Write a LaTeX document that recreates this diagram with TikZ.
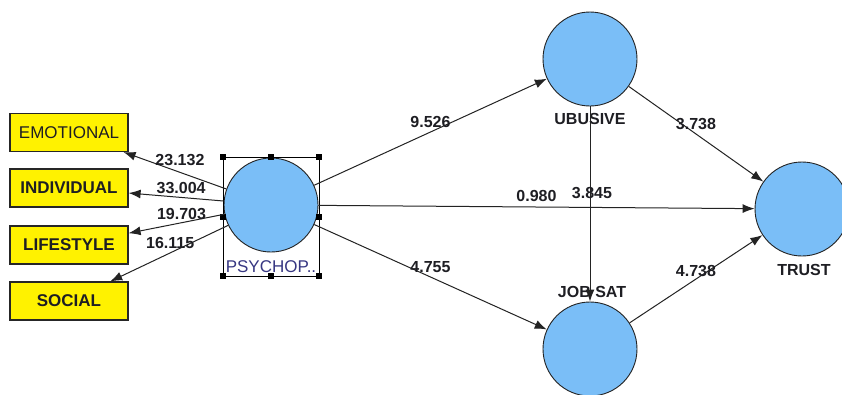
\documentclass[tikz,border=0pt]{standalone}
\usepackage{fontspec}
\setmainfont{Liberation Sans}
\usetikzlibrary{arrows.meta}
\definecolor{latentfill}{RGB}{122,190,247}
\definecolor{edgegray}{RGB}{35,35,35}
\definecolor{txt}{RGB}{30,30,35}
\definecolor{selblue}{RGB}{55,55,130}
\tikzset{
  latent/.style={circle, draw=edgegray, line width=0.9pt, fill=latentfill, minimum size=94pt, inner sep=0pt},
  indicator/.style={rectangle, draw=black!85, line width=1.2pt, fill=yellow, minimum width=118pt, minimum height=38pt, inner sep=0pt, text=txt},
  path/.style={draw=edgegray, line width=1pt, -{Latex[length=12pt,width=9pt]}},
  coef/.style={font=\fontsize{16}{16}\bfseries\selectfont, text=txt, inner sep=1pt},
  lvname/.style={font=\fontsize{16}{16}\bfseries\selectfont, text=txt, inner sep=0pt},
  handle/.style={rectangle, fill=black, minimum size=6pt, inner sep=0pt}
}
\begin{document}
\begin{tikzpicture}[x=1pt, y=-1pt]
\clip (0,0) rectangle (842,394);
\fill[white] (0,0) rectangle (842,394);

% latent variables
\node[latent] (psy) at (271,205) {};
\node[latent] (ubu) at (590,59) {};
\node[latent] (job) at (590,349) {};
\node[latent] (trust) at (802,209) {};

% indicator boxes
\node[indicator, font=\fontsize{17}{17}\selectfont] (emo) at (69,132.5) {EMOTIONAL};
\node[indicator, font=\fontsize{17}{17}\bfseries\selectfont] (ind) at (69,188) {INDIVIDUAL};
\node[indicator, font=\fontsize{17}{17}\bfseries\selectfont] (life) at (69,245) {LIFESTYLE};
\node[indicator, font=\fontsize{17}{17}\bfseries\selectfont] (soc) at (69,301) {SOCIAL};

% construct names
\node[lvname] at (590,119) {UBUSIVE};
\node[lvname] at (592,292) {JOB SAT};
\node[lvname] at (804,270) {TRUST};
\node[font=\fontsize{17}{17}\selectfont, text=selblue, inner sep=0pt] at (271,267) {PSYCHOP..};

% selection frame with handles
\draw[black, line width=1pt] (223,157) rectangle (319,276);
\foreach \hx in {223,271,319}{
  \node[handle] at (\hx,157) {};
  \node[handle] at (\hx,276) {};
}
\node[handle] at (223,216.5) {};
\node[handle] at (319,216.5) {};

% outer loadings
\draw[path] (psy) -- node[coef, midway, above=3pt, xshift=5pt] {23.132} (emo);
\draw[path] (psy) -- node[coef, midway, above=2pt, xshift=5pt] {33.004} (ind);
\draw[path] (psy) -- node[coef, midway, above=3pt, xshift=5pt] {19.703} (life);
\draw[path] (psy) -- node[coef, midway, above=3pt, xshift=1pt] {16.115} (soc);

% structural paths
\draw[path] (psy) -- node[coef, midway, above=3pt] {9.526} (ubu);
\draw[path] (psy) -- node[coef, midway, above=4pt] {0.980} (trust);
\draw[path] (psy) -- node[coef, midway, above=3pt] {4.755} (job);
\draw[path] (ubu) -- node[coef, midway, above=4pt, xshift=2pt] {3.845} (job);
\draw[path] (ubu) -- node[coef, midway, above=3pt] {3.738} (trust);
\draw[path] (job) -- node[coef, midway, above=1pt] {4.738} (trust);
\end{tikzpicture}
\end{document}
